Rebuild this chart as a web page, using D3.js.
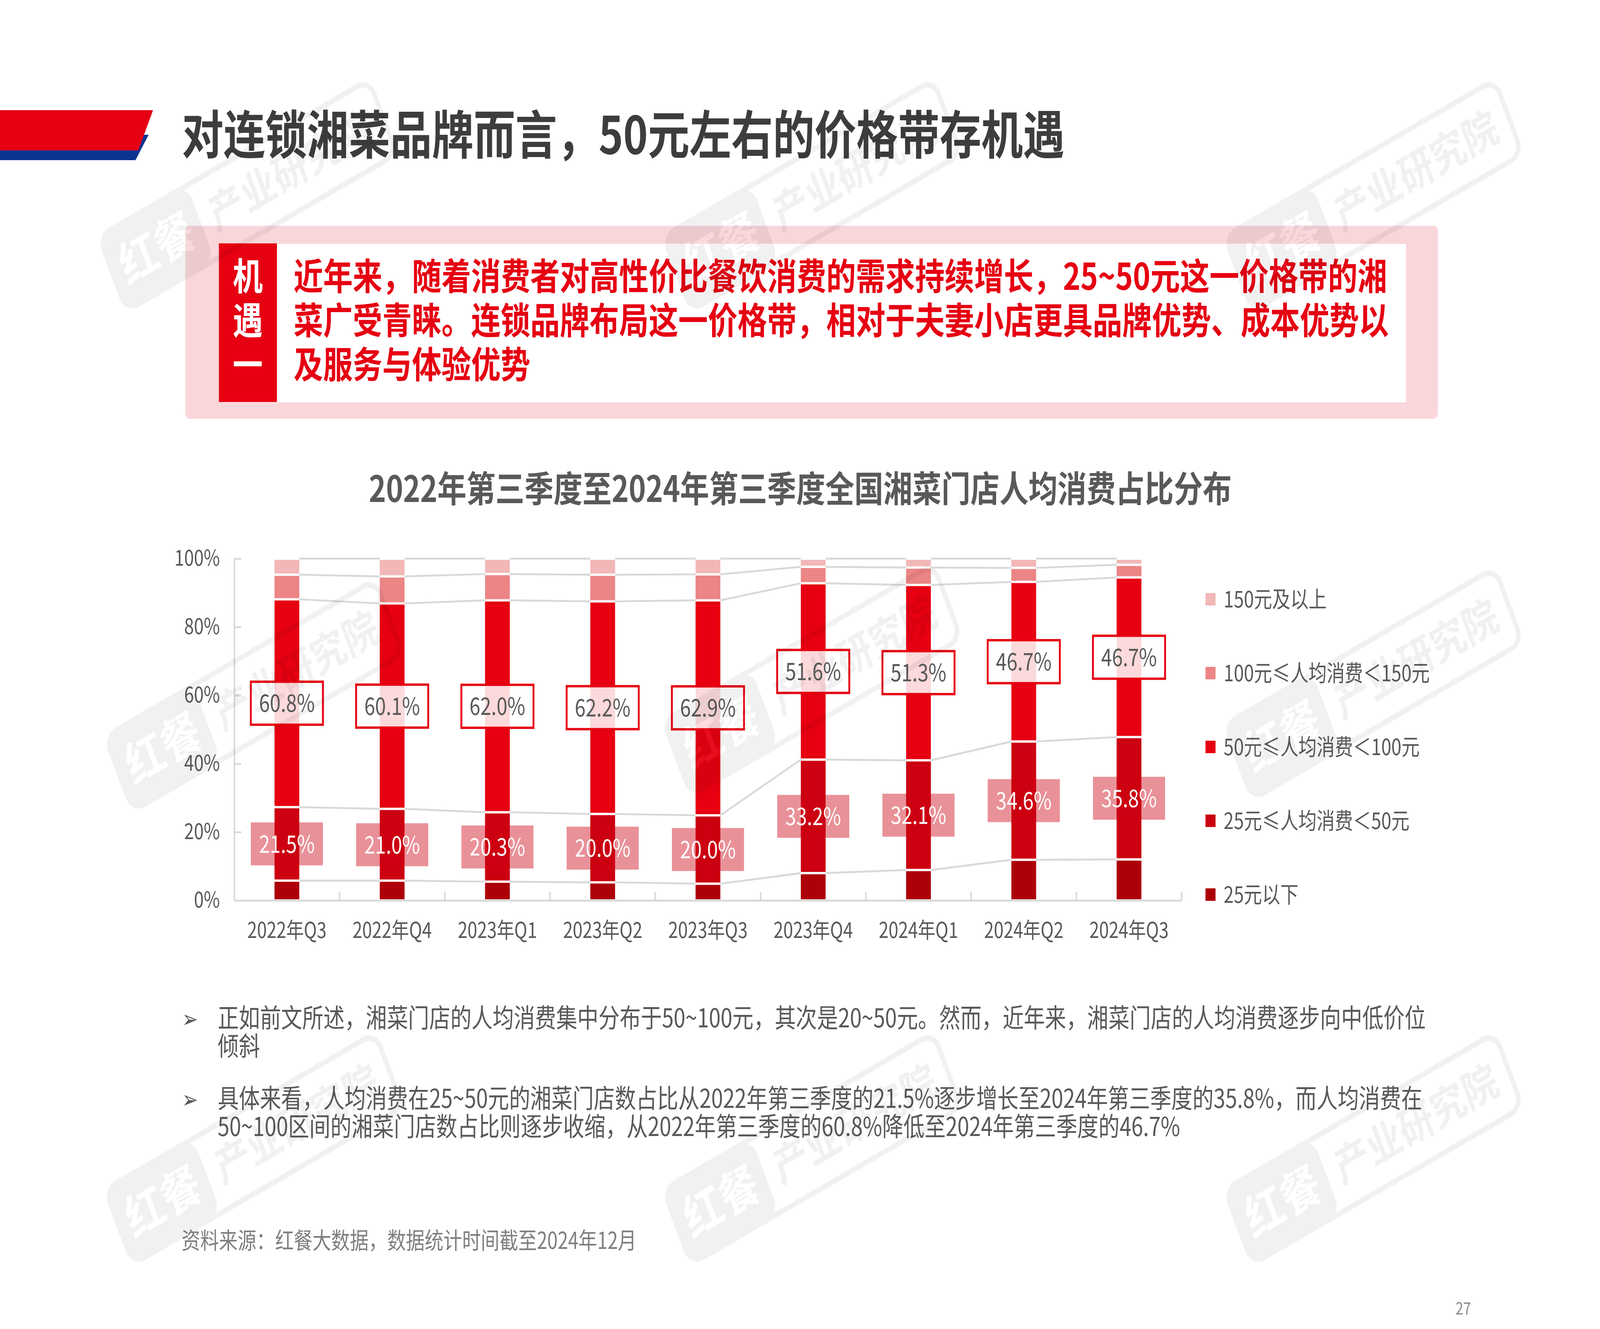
<!DOCTYPE html>
<html><head><meta charset="utf-8">
<script src="https://cdn.jsdelivr.net/npm/d3@7/dist/d3.min.js"></script>
<style>html,body{margin:0;padding:0;background:#fff;width:100%;height:100%;overflow:hidden;}svg{display:block;width:100vw;height:100vh;}</style>
</head><body>
<script>
// ---------- data ----------
const categories = ['2022年Q3','2022年Q4','2023年Q1','2023年Q2','2023年Q3','2023年Q4','2024年Q1','2024年Q2','2024年Q3'];
const below25   = [5.8, 5.8, 5.5, 5.3, 4.9, 8.0, 8.9, 11.9, 12.0];
const r25_50    = [21.5, 21.0, 20.3, 20.0, 20.0, 33.2, 32.1, 34.6, 35.8];
const r50_100   = [60.8, 60.1, 62.0, 62.2, 62.9, 51.6, 51.3, 46.7, 46.7];
const r100_150  = [7.2, 7.9, 7.7, 7.8, 7.6, 4.8, 5.1, 4.1, 3.7];
const above150  = [4.7, 5.2, 4.5, 4.7, 4.6, 2.4, 2.6, 2.7, 1.8];
const seriesKeys   = ['below25','r25_50','r50_100','r100_150','above150'];
const seriesNames  = ['25元以下','25元≤人均消费＜50元','50元≤人均消费＜100元','100元≤人均消费＜150元','150元及以上'];
const seriesColors = ['#ad0008','#cc0011','#e60012','#ec8585','#f2b7b7'];
const yTicks = [0,20,40,60,80,100];

const pageTitle = '对连锁湘菜品牌而言，50元左右的价格带存机遇';
const tagChars = ['机','遇','一'];
const boxLines = ['近年来，随着消费者对高性价比餐饮消费的需求持续增长，25~50元这一价格带的湘',
                  '菜广受青睐。连锁品牌布局这一价格带，相对于夫妻小店更具品牌优势、成本优势以',
                  '及服务与体验优势'];
const chartTitle = '2022年第三季度至2024年第三季度全国湘菜门店人均消费占比分布';
const bullets = [
  ['正如前文所述，湘菜门店的人均消费集中分布于50~100元，其次是20~50元。然而，近年来，湘菜门店的人均消费逐步向中低价位','倾斜'],
  ['具体来看，人均消费在25~50元的湘菜门店数占比从2022年第三季度的21.5%逐步增长至2024年第三季度的35.8%，而人均消费在',
   '50~100区间的湘菜门店数占比则逐步收缩，从2022年第三季度的60.8%降低至2024年第三季度的46.7%']
];
const sourceText = '资料来源：红餐大数据，数据统计时间截至2024年12月';
const pageNo = '27';

// ---------- setup ----------
const W = 5102, H = 3402;
const FONT = '"Noto Sans CJK SC","Noto Sans",sans-serif';
// fill the whole window with the 5102x3402 page layout
const svg = d3.select('body').append('svg').attr('viewBox', `0 0 ${W} ${H}`).attr('preserveAspectRatio', 'none');
svg.append('rect').attr('width', W).attr('height', H).attr('fill', '#fff');

function fitWidth(sel, target) {
  const w = sel.node().getComputedTextLength();
  const fs = +sel.attr('font-size');
  const nfs = fs * target / w;
  sel.attr('font-size', nfs);
  return nfs;
}

// ---------- header ----------
svg.append('polygon').attr('points', '0,345 474,345 432,410 0,410').attr('fill', '#0d3491');
svg.append('polygon').attr('points', '0,282 488,282 441,385 0,385').attr('fill', '#e60012');
const tt = svg.append('text').attr('x', 580).attr('y', 394).attr('font-family', FONT).attr('font-weight', 700)
  .attr('font-size', 133).attr('fill', '#3d3d3d').text(pageTitle);
fitWidth(tt, 2815);

// ---------- highlight box ----------
svg.append('rect').attr('x', 591).attr('y', 578).attr('width', 3994).attr('height', 494).attr('rx', 14).attr('fill', '#f9d6da');
svg.append('rect').attr('x', 883).attr('y', 624).attr('width', 3600).attr('height', 406).attr('fill', '#fff');
svg.append('rect').attr('x', 698).attr('y', 623).attr('width', 185).attr('height', 406).attr('fill', '#e60012');
const lineY = [742, 855, 968];
tagChars.forEach((c, i) => {
  svg.append('text').attr('x', 790).attr('y', lineY[i]).attr('text-anchor', 'middle').attr('font-family', FONT)
    .attr('font-weight', 700).attr('font-size', 96).attr('fill', '#fff').text(c);
});
const l2 = svg.append('text').attr('x', 936).attr('y', lineY[1]).attr('font-family', FONT).attr('font-weight', 700)
  .attr('font-size', 96).attr('fill', '#e60012').text(boxLines[1]);
const boxFs = fitWidth(l2, 3492);
[0, 2].forEach(i => {
  svg.append('text').attr('x', 936).attr('y', lineY[i]).attr('font-family', FONT).attr('font-weight', 700)
    .attr('font-size', boxFs).attr('fill', '#e60012').text(boxLines[i]);
});

// ---------- chart title ----------
const ct = svg.append('text').attr('x', 2552).attr('y', 1285).attr('text-anchor', 'middle').attr('font-family', FONT)
  .attr('font-weight', 700).attr('font-size', 90).attr('fill', '#595959').text(chartTitle);
fitWidth(ct, 2752);

// ---------- chart ----------
const x = d3.scaleBand().domain(categories).range([747, 3768]).padding(0);
const y = d3.scaleLinear().domain([0, 100]).range([2305, 1430]);
const barW = 79;
const dataRows = categories.map((c, i) => ({
  cat: c, below25: below25[i], r25_50: r25_50[i], r50_100: r50_100[i], r100_150: r100_150[i], above150: above150[i]
}));
const stacked = d3.stack().keys(seriesKeys)(dataRows);
const cx = c => x(c) + x.bandwidth() / 2;

// series lines between bars
const gLines = svg.append('g');
stacked.forEach(s => {
  for (let i = 0; i < s.length - 1; i++) {
    gLines.append('line')
      .attr('x1', cx(categories[i]) + barW / 2).attr('y1', y(s[i][1]))
      .attr('x2', cx(categories[i + 1]) - barW / 2).attr('y2', y(s[i + 1][1]))
      .attr('stroke', '#d9d9d9').attr('stroke-width', 5);
  }
});

// 25-50 label boxes (translucent series colour)
const labelW = 230, labelH = 110;
const s2550 = stacked[1];
svg.append('g').selectAll('rect').data(s2550).join('rect')
  .attr('x', d => cx(d.data.cat) - labelW / 2)
  .attr('y', d => y((d[0] + d[1]) / 2) - labelH / 2)
  .attr('width', labelW).attr('height', labelH)
  .attr('fill', '#cc0011').attr('fill-opacity', 0.43);

// stacked bars
const gap = 3;
stacked.forEach((s, si) => {
  svg.append('g').selectAll('rect').data(s).join('rect')
    .attr('x', d => cx(d.data.cat) - barW / 2)
    .attr('y', d => y(d[1]) + gap)
    .attr('width', barW)
    .attr('height', d => Math.max(0, y(d[0]) - y(d[1]) - 2 * gap))
    .attr('fill', seriesColors[si]);
});

// axes
const yAxis = d3.axisLeft(y).tickValues(yTicks).tickFormat(d => d + '%').tickSizeInner(-22).tickSizeOuter(0).tickPadding(46);
const gy = svg.append('g').attr('transform', 'translate(747,0)').call(yAxis);
gy.select('.domain').attr('stroke', '#d9d9d9').attr('stroke-width', 5);
gy.selectAll('.tick line').attr('stroke', '#d9d9d9').attr('stroke-width', 5);
gy.selectAll('.tick text').attr('font-family', FONT).attr('font-size', 56).attr('fill', '#595959');

const xAxis = d3.axisBottom(x).tickSize(0).tickSizeOuter(0);
const gx = svg.append('g').attr('transform', 'translate(0,2305)').call(xAxis);
gx.select('.domain').attr('stroke', '#d9d9d9').attr('stroke-width', 5);
gx.selectAll('.tick text').attr('font-family', FONT).attr('font-size', 56).attr('fill', '#595959')
  .attr('y', 96).attr('dy', 0);
gx.append('g').selectAll('line').data(categories).join('line')
  .attr('x1', d => x(d) + x.bandwidth()).attr('x2', d => x(d) + x.bandwidth())
  .attr('y1', 0).attr('y2', -22).attr('stroke', '#d9d9d9').attr('stroke-width', 5);

// 50-100 labels (white translucent with red border)
const s50100 = stacked[2];
const g5 = svg.append('g');
g5.selectAll('rect').data(s50100).join('rect')
  .attr('x', d => cx(d.data.cat) - labelW / 2)
  .attr('y', d => y((d[0] + d[1]) / 2) - labelH / 2)
  .attr('width', labelW).attr('height', labelH)
  .attr('fill', '#fff').attr('fill-opacity', 0.85)
  .attr('stroke', '#e60012').attr('stroke-width', 6);
g5.selectAll('text').data(s50100).join('text')
  .attr('x', d => cx(d.data.cat)).attr('y', d => y((d[0] + d[1]) / 2))
  .attr('dy', '0.36em').attr('text-anchor', 'middle').attr('font-family', FONT).attr('font-size', 62)
  .attr('fill', '#595959').text(d => d.data.r50_100.toFixed(1) + '%');
svg.append('g').selectAll('text').data(s2550).join('text')
  .attr('x', d => cx(d.data.cat)).attr('y', d => y((d[0] + d[1]) / 2))
  .attr('dy', '0.36em').attr('text-anchor', 'middle').attr('font-family', FONT).attr('font-size', 62)
  .attr('fill', '#fff').text(d => d.data.r25_50.toFixed(1) + '%');

// legend (top = highest band)
const legendOrder = [4, 3, 2, 1, 0];
const gLeg = svg.append('g');
legendOrder.forEach((si, k) => {
  const cy = 1534 + k * 189;
  gLeg.append('rect').attr('x', 3844).attr('y', cy - 16).attr('width', 32).attr('height', 32).attr('fill', seriesColors[si]);
  gLeg.append('text').attr('x', 3902).attr('y', cy).attr('dy', '0.36em').attr('font-family', FONT)
    .attr('font-size', 58).attr('fill', '#595959').text(seriesNames[si]);
});

// ---------- bullet text ----------
const bulletY = [[2630, 2702], [2836, 2908]];
let bfs = null;
bullets.forEach((lines, bi) => {
  svg.append('text').attr('x', 580).attr('y', bulletY[bi][0]).attr('font-family', '"DejaVu Sans",sans-serif')
    .attr('font-size', 62).attr('fill', '#595959').text('➢');
  lines.forEach((ln, li) => {
    const t = svg.append('text').attr('x', 694).attr('y', bulletY[bi][li]).attr('font-family', FONT)
      .attr('font-size', 64).attr('fill', '#595959').text(ln);
    if (bi === 0 && li === 0) bfs = fitWidth(t, 3852);
    else t.attr('font-size', bfs);
  });
});

// source & page number
const src = svg.append('text').attr('x', 579).attr('y', 3197).attr('font-family', FONT).attr('font-size', 58)
  .attr('fill', '#7f7f7f').text(sourceText);
fitWidth(src, 1451);
svg.append('text').attr('x', 4666).attr('y', 3365).attr('text-anchor', 'middle').attr('font-family', FONT)
  .attr('font-size', 44).attr('fill', '#8c8c8c').text(pageNo);

// ---------- watermarks ----------
const wmCenters = [[790, 500], [2590, 500], [4380, 500], [810, 1780], [2590, 1740], [4380, 1750], [810, 2940], [2590, 2940], [4380, 2940]];
wmCenters.forEach(([wx, wy]) => {
  const g = svg.append('g').attr('transform', `translate(${wx},${wy}) rotate(-25)`).attr('opacity', 0.05);
  g.append('rect').attr('x', -475).attr('y', -105).attr('width', 950).attr('height', 210).attr('rx', 40)
    .attr('fill', 'none').attr('stroke', '#000').attr('stroke-width', 14);
  g.append('rect').attr('x', -475).attr('y', -105).attr('width', 310).attr('height', 210).attr('rx', 40).attr('fill', '#000');
  g.append('text').attr('x', -320).attr('y', 0).attr('dy', '0.36em').attr('text-anchor', 'middle').attr('font-family', FONT)
    .attr('font-weight', 700).attr('font-size', 125).attr('fill', '#fff').text('红餐');
  g.append('text').attr('x', 150).attr('y', 0).attr('dy', '0.36em').attr('text-anchor', 'middle').attr('font-family', FONT)
    .attr('font-weight', 700).attr('font-size', 112).attr('fill', '#000').text('产业研究院');
});
</script>
</body></html>
